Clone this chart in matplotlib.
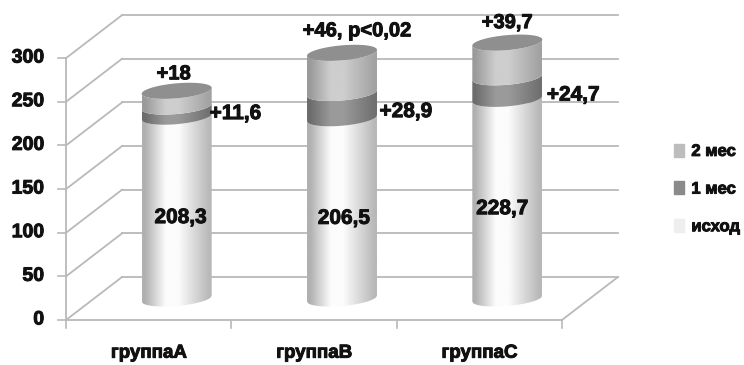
import matplotlib
matplotlib.use("Agg")
import matplotlib.pyplot as plt
import matplotlib.patheffects as pe
import numpy as np
from matplotlib.colors import LinearSegmentedColormap
from matplotlib.patches import Patch, Polygon

groups = ["группа A", "группа B", "группа C"]
baseline = [208.3, 206.5, 228.7]
month1 = [11.6, 28.9, 24.7]
month2 = [18, 46, 39.7]
month1_labels = ["+11,6", "+28,9", "+24,7"]
month2_labels = ["+18", "+46, p<0,02", "+39,7"]
baseline_labels = ["208,3", "206,5", "228,7"]
y_ticks = [0, 50, 100, 150, 200, 250, 300]
series_names = ["2 мес", "1 мес", "исход"]

# pixel scale of the oblique projection
W, H = 744, 365
PX_CAT = 165.3
PX_VAL = 0.873
X0, Y0 = 148.7, 320
DEPTH_X = 56 / PX_CAT
DEPTH_Y = 43 / PX_VAL
RADIUS = 35 / PX_CAT
MINOR = 7.5 / PX_VAL
TILT = 0.085 * PX_CAT / PX_VAL

GRID = "#b9b9b9"
HEAVY = [pe.withStroke(linewidth=0.7, foreground="#111111")]
FONT = {
    "family": "Liberation Sans",
    "weight": "bold",
    "color": "#111111",
    "path_effects": HEAVY,
}


def shade(edge_l, mid, edge_r):
    return LinearSegmentedColormap.from_list(
        "shade", [(0, edge_l), (0.04, edge_l), (0.34, mid), (0.52, mid), (0.97, edge_r), (1, edge_r)]
    )


def band(ax, cx, v0, v1, cmap):
    # one slice of the cylinder, limited by the front arcs of two ellipses
    t = np.linspace(-1, 1, 80)
    arc = -MINOR * np.sqrt(1 - t**2) + TILT * RADIUS * t
    xs = cx + RADIUS * t
    pts = np.r_[np.c_[xs, v0 + arc], np.c_[xs[::-1], v1 + arc[::-1]]]
    clip = Polygon(pts, closed=True, transform=ax.transData, fc="none", ec="none")
    ax.add_patch(clip)
    img = ax.imshow(
        np.linspace(0, 1, 200)[None, :],
        cmap=cmap,
        aspect="auto",
        extent=(cx - RADIUS, cx + RADIUS, v0 - 30, v1 + 30),
        zorder=3,
    )
    img.set_clip_path(clip)


def top_cap(ax, cx, v, color):
    t = np.linspace(0, 2 * np.pi, 120)
    pts = np.c_[
        cx + RADIUS * np.cos(t),
        v + MINOR * np.sin(t) + TILT * RADIUS * np.cos(t),
    ]
    ax.add_patch(Polygon(pts, closed=True, fc=color, ec="none", zorder=4))


fig = plt.figure(figsize=(W / 100, H / 100), dpi=100)
ax = fig.add_axes([0, 0, 1, 1])
ax.axis("off")

left, right = -0.5, len(groups) - 0.5

# walls and floor
for v in y_ticks:
    ax.plot([left, left + DEPTH_X], [v, v + DEPTH_Y], color=GRID, lw=1.3, zorder=1)
    ax.plot(
        [left + DEPTH_X, right + DEPTH_X],
        [v + DEPTH_Y, v + DEPTH_Y],
        color=GRID,
        lw=1.3,
        zorder=1,
    )
    ax.plot([left - 8 / PX_CAT, left], [v, v], color=GRID, lw=1.2, zorder=1)
    ax.text(left - 22 / PX_CAT, v, str(v), ha="right", va="center", fontsize=14, **FONT)
ax.plot([left, left], [0, y_ticks[-1]], color=GRID, lw=1.3, zorder=1)
ax.plot([left, right], [0, 0], color=GRID, lw=1.3, zorder=1)
ax.plot([right, right + DEPTH_X], [0, DEPTH_Y], color=GRID, lw=1.3, zorder=1)
for c in np.arange(left, right + 1):
    ax.plot([c, c], [0, -8 / PX_VAL], color=GRID, lw=1.2, zorder=1)

base_map = shade("#b0b0b0", "#fcfcfc", "#b8b8b8")
m1_map = shade("#6c6c6c", "#9a9a9a", "#707070")
m2_map = shade("#9a9a9a", "#cecece", "#a2a2a2")

# offsets of the value labels from their slices, in pixels
base_off = [(4, -10), (2, -10), (-5, -10)]
m1_off = [(59, -2), (64, -6), (66, -7)]
m2_off = [(-3, 17), (15, 22), (0, 20)]

for i, name in enumerate(groups):
    cx = i + DEPTH_X / 2
    floor = DEPTH_Y / 2
    b, m1, m2 = baseline[i], month1[i], month2[i]
    band(ax, cx, floor, floor + b, base_map)
    band(ax, cx, floor + b, floor + b + m1, m1_map)
    band(ax, cx, floor + b + m1, floor + b + m1 + m2, m2_map)
    top_cap(ax, cx, floor + b + m1 + m2, "#8f8f8f")

    ax.annotate(
        baseline_labels[i], (cx, floor + b / 2), xytext=base_off[i],
        textcoords="offset pixels", ha="center", va="center",
        fontsize=15, zorder=6, **FONT,
    )
    ax.annotate(
        month1_labels[i], (cx, floor + b + m1 / 2), xytext=m1_off[i],
        textcoords="offset pixels", ha="center", va="center",
        fontsize=15, zorder=6, **FONT,
    )
    ax.annotate(
        month2_labels[i], (cx, floor + b + m1 + m2), xytext=m2_off[i],
        textcoords="offset pixels", ha="center", va="center",
        fontsize=14.5, zorder=6, **FONT,
    )
    ax.text(i, -38, name.replace(" ", ""), ha="center", va="center", fontsize=13.5, **FONT)

ax.set_xlim(-X0 / PX_CAT, (W - X0) / PX_CAT)
ax.set_ylim((Y0 - H) / PX_VAL, Y0 / PX_VAL)

handles = [Patch(color=c) for c in ["#bdbdbd", "#8a8a8a", "#eeeeee"]]
leg = ax.legend(
    handles,
    series_names,
    loc="center left",
    bbox_to_anchor=(671 / W, 1 - 189 / H),
    frameon=False,
    handlelength=0.6,
    handleheight=0.8,
    handletextpad=0.42,
    labelspacing=1.35,
    borderpad=0.2,
    borderaxespad=0,
    prop={"family": "Liberation Sans", "weight": "bold", "size": 12},
    labelcolor="#111111",
)
for label in leg.get_texts():
    label.set_path_effects(HEAVY)

fig.savefig("out.png", dpi=100)
